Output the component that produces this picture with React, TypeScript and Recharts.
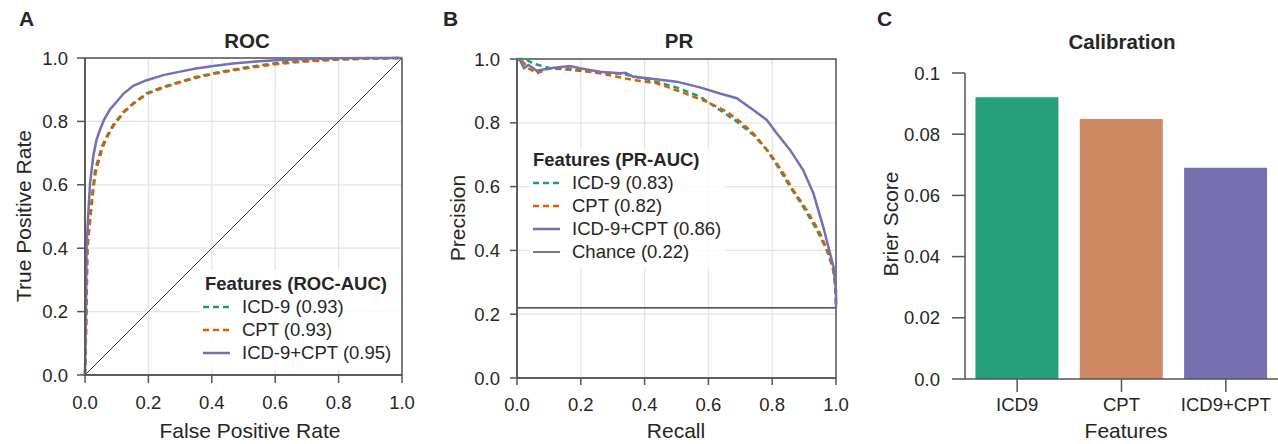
import React from 'react';
import {
  LineChart, Line, BarChart, Bar, Cell,
  XAxis, YAxis, CartesianGrid, ReferenceLine, ReferenceArea, Legend
} from 'recharts';

// ROC curves: [false positive rate, true positive rate]
const rocIcd9 = [
  [0, 0], [0.003, 0.15], [0.007, 0.405], [0.016, 0.5], [0.024, 0.58], [0.032, 0.647],
  [0.053, 0.72], [0.068, 0.752], [0.089, 0.789], [0.121, 0.83], [0.152, 0.857],
  [0.195, 0.889], [0.247, 0.909], [0.3, 0.925], [0.35, 0.94], [0.405, 0.952],
  [0.51, 0.971], [0.615, 0.985], [0.7, 0.992], [0.8, 0.997], [0.9, 0.999], [1, 1],
];
const rocCpt = [
  [0, 0], [0.004, 0.15], [0.008, 0.4], [0.017, 0.495], [0.025, 0.575], [0.034, 0.64],
  [0.055, 0.716], [0.07, 0.75], [0.09, 0.786], [0.122, 0.828], [0.152, 0.855],
  [0.195, 0.886], [0.247, 0.907], [0.3, 0.923], [0.35, 0.937], [0.405, 0.95],
  [0.51, 0.968], [0.615, 0.982], [0.7, 0.989], [0.8, 0.995], [0.9, 0.998], [1, 1],
];
const rocCombined = [
  [0, 0], [0.003, 0.2], [0.005, 0.405], [0.011, 0.52], [0.016, 0.605], [0.026, 0.69],
  [0.036, 0.74], [0.047, 0.773], [0.06, 0.805], [0.079, 0.838], [0.1, 0.862],
  [0.121, 0.887], [0.152, 0.912], [0.195, 0.93], [0.247, 0.946], [0.3, 0.957],
  [0.35, 0.967], [0.405, 0.975], [0.467, 0.983], [0.55, 0.99], [0.615, 0.994],
  [0.7, 0.997], [0.8, 0.999], [0.9, 1], [1, 1],
];
const rocChance = [[0, 0], [1, 1]];

// PR curves: [recall, precision]
const prIcd9 = [
  [0, 1], [0.025, 1], [0.051, 0.986], [0.103, 0.971], [0.156, 0.967], [0.26, 0.957],
  [0.333, 0.953], [0.417, 0.934], [0.5, 0.911], [0.574, 0.882], [0.636, 0.84],
  [0.689, 0.804], [0.741, 0.762], [0.783, 0.715], [0.814, 0.668], [0.856, 0.6],
  [0.897, 0.537], [0.94, 0.464], [0.971, 0.401], [0.992, 0.339], [1, 0.25], [1, 0.22],
];
const prCpt = [
  [0.015, 0.995], [0.036, 0.971], [0.062, 0.955], [0.103, 0.971], [0.156, 0.971],
  [0.26, 0.955], [0.365, 0.934], [0.438, 0.924], [0.511, 0.898], [0.595, 0.866],
  [0.657, 0.835], [0.699, 0.804], [0.741, 0.767], [0.793, 0.704], [0.835, 0.642],
  [0.866, 0.589], [0.908, 0.527], [0.95, 0.454], [0.981, 0.38], [0.997, 0.31], [1, 0.22],
];
const prCombined = [
  [0, 1], [0.009, 0.997], [0.022, 0.971], [0.036, 0.981], [0.062, 0.963], [0.103, 0.971],
  [0.166, 0.978], [0.197, 0.971], [0.26, 0.96], [0.323, 0.955], [0.34, 0.957],
  [0.365, 0.944], [0.417, 0.939], [0.5, 0.929], [0.574, 0.911], [0.636, 0.892],
  [0.689, 0.877], [0.741, 0.84], [0.783, 0.809], [0.814, 0.767], [0.856, 0.715],
  [0.897, 0.652], [0.929, 0.579], [0.96, 0.474], [0.992, 0.349], [1, 0.276], [1, 0.22],
];
const prChance = 0.22;

// Calibration
const brierCategories = ['ICD9', 'CPT', 'ICD9+CPT'];
const brierScores = [0.0921, 0.085, 0.069];
const brierTicks = [0, 0.02, 0.04, 0.06, 0.08, 0.1];
const unitTicks = [0, 0.2, 0.4, 0.6, 0.8, 1.0];

const GREEN = '#1b9e77';
const ORANGE = '#d95f02';
const PURPLE = '#7570b3';
const barColors = ['#25a07a', '#cd8962', '#7670b1'];

const FONT = '"Liberation Sans", Arial, Helvetica, sans-serif';
const SPINE = '#555';
const TEXT = '#262626';
const tickStyle = { fontSize: 18.5, fill: TEXT, fontFamily: FONT };

const toPts = (arr: number[][]) => arr.map(([x, y]) => ({ x, y }));

function Txt({ x, y, size, bold, rotate, children }: any) {
  return (
    <div style={{
      position: 'absolute', left: x, top: y, fontSize: size, fontWeight: bold ? 'bold' : 'normal',
      fontFamily: FONT, color: TEXT, lineHeight: 1, whiteSpace: 'nowrap',
      transform: `translate(-50%, -50%)${rotate ? ' rotate(-90deg)' : ''}`,
    }}>{children}</div>
  );
}

interface LegendItem { label: string; color: string; dash?: string; width: number; }

function LegendBox({ title, items, titleH, rowH, padTop, padLeft, gap }: any) {
  return (
    <div style={{ background: 'rgba(255,255,255,0.8)', paddingTop: padTop, paddingBottom: 6, fontFamily: FONT, color: TEXT }}>
      <div style={{ height: titleH, lineHeight: `${titleH}px`, fontSize: 18.5, fontWeight: 'bold', paddingLeft: padLeft }}>{title}</div>
      {items.map((it: LegendItem) => (
        <div key={it.label} style={{ height: rowH, display: 'flex', alignItems: 'center', fontSize: 18.5 }}>
          <svg width={27} height={10} style={{ marginLeft: 3, marginRight: gap }}>
            <line x1={0} y1={5} x2={27} y2={5} stroke={it.color} strokeWidth={it.width} strokeDasharray={it.dash} />
          </svg>
          <span>{it.label}</span>
        </div>
      ))}
    </div>
  );
}

const rocLegend: LegendItem[] = [
  { label: 'ICD-9 (0.93)', color: GREEN, dash: '6 4', width: 2.5 },
  { label: 'CPT (0.93)', color: ORANGE, dash: '6 4', width: 2.5 },
  { label: 'ICD-9+CPT (0.95)', color: PURPLE, width: 2.5 },
];
const prLegend: LegendItem[] = [
  { label: 'ICD-9 (0.83)', color: GREEN, dash: '6 4', width: 2.5 },
  { label: 'CPT (0.82)', color: ORANGE, dash: '6 4', width: 2.5 },
  { label: 'ICD-9+CPT (0.86)', color: PURPLE, width: 2.5 },
  { label: 'Chance (0.22)', color: '#222', width: 1.2 },
];

export default function App() {
  const calib = brierCategories.map((name, i) => ({ name, brier: brierScores[i] }));
  const fmtUnit = (v: number) => v.toFixed(1);
  const fmtBrier = (v: number) => (v === 0 ? '0.0' : v === 0.1 ? '0.1' : v.toFixed(2));

  return (
    <div style={{ position: 'absolute', left: 0, top: 0, width: 1278, height: 444, background: '#fff', overflow: 'hidden' }}>
      {/* A: ROC */}
      <div style={{ position: 'absolute', left: 0, top: 0 }}>
        <LineChart width={420} height={444} margin={{ top: 58, right: 18, bottom: 0, left: 0 }}>
          <CartesianGrid stroke="#e4e4e4" strokeWidth={1.3} />
          <XAxis dataKey="x" type="number" domain={[0, 1]} ticks={unitTicks} tickFormatter={fmtUnit}
            height={69} tickSize={8} tickMargin={13} tick={tickStyle}
            axisLine={{ stroke: SPINE, strokeWidth: 1.5 }} tickLine={{ stroke: SPINE, strokeWidth: 1.5 }} />
          <YAxis dataKey="y" type="number" domain={[0, 1]} ticks={unitTicks} tickFormatter={fmtUnit}
            width={85} tickSize={8} tickMargin={9} tick={tickStyle}
            axisLine={{ stroke: SPINE, strokeWidth: 1.5 }} tickLine={{ stroke: SPINE, strokeWidth: 1.5 }} />
          <ReferenceArea x1={0} x2={1} y1={0} y2={1} fill="none" stroke={SPINE} strokeWidth={1.5} ifOverflow="visible" />
          <Line data={toPts(rocChance)} dataKey="y" stroke="#222" strokeWidth={0.9} dot={false} isAnimationActive={false} />
          <Line data={toPts(rocIcd9)} dataKey="y" stroke={GREEN} strokeWidth={2.5} strokeDasharray="6 4" dot={false} isAnimationActive={false} />
          <Line data={toPts(rocCpt)} dataKey="y" stroke={ORANGE} strokeWidth={2.5} strokeDasharray="6 4" dot={false} isAnimationActive={false} />
          <Line data={toPts(rocCombined)} dataKey="y" stroke={PURPLE} strokeWidth={2.5} dot={false} isAnimationActive={false} />
          <Legend layout="vertical" align="center" verticalAlign="middle"
            wrapperStyle={{ left: 200, top: 270, width: 201 }}
            content={() => <LegendBox title="Features (ROC-AUC)" items={rocLegend} titleH={23} rowH={23} padTop={2} padLeft={5} gap={12} />} />
        </LineChart>
        <Txt x={26.5} y={17.5} size={21} bold>A</Txt>
        <Txt x={247} y={40.5} size={20.5} bold>ROC</Txt>
        <Txt x={23} y={216} size={21} rotate>True Positive Rate</Txt>
        <Txt x={250} y={430} size={21}>False Positive Rate</Txt>
      </div>

      {/* B: PR */}
      <div style={{ position: 'absolute', left: 420, top: 0 }}>
        <LineChart width={440} height={444} margin={{ top: 59, right: 24, bottom: 0, left: 0 }}>
          <CartesianGrid stroke="#e4e4e4" strokeWidth={1.3} />
          <XAxis dataKey="x" type="number" domain={[0, 1]} ticks={unitTicks} tickFormatter={fmtUnit}
            height={66} tickSize={7} tickMargin={13} tick={tickStyle}
            axisLine={{ stroke: SPINE, strokeWidth: 1.5 }} tickLine={{ stroke: SPINE, strokeWidth: 1.5 }} />
          <YAxis dataKey="y" type="number" domain={[0, 1]} ticks={unitTicks} tickFormatter={fmtUnit}
            width={97} tickSize={7} tickMargin={10} tick={tickStyle}
            axisLine={{ stroke: SPINE, strokeWidth: 1.5 }} tickLine={{ stroke: SPINE, strokeWidth: 1.5 }} />
          <ReferenceArea x1={0} x2={1} y1={0} y2={1} fill="none" stroke={SPINE} strokeWidth={1.5} ifOverflow="visible" />
          <ReferenceLine y={prChance} stroke="#222" strokeWidth={1.2} />
          <Line data={toPts(prIcd9)} dataKey="y" stroke={GREEN} strokeWidth={2.5} strokeDasharray="6 4" dot={false} isAnimationActive={false} />
          <Line data={toPts(prCpt)} dataKey="y" stroke={ORANGE} strokeWidth={2.5} strokeDasharray="6 4" dot={false} isAnimationActive={false} />
          <Line data={toPts(prCombined)} dataKey="y" stroke={PURPLE} strokeWidth={2.5} dot={false} isAnimationActive={false} />
          <Legend layout="vertical" align="center" verticalAlign="middle"
            wrapperStyle={{ left: 110, top: 148, width: 196 }}
            content={() => <LegendBox title="Features (PR-AUC)" items={prLegend} titleH={22} rowH={23} padTop={1} padLeft={3} gap={12} />} />
        </LineChart>
        <Txt x={30.5} y={17.5} size={21} bold>B</Txt>
        <Txt x={259} y={41} size={20.5} bold>PR</Txt>
        <Txt x={37} y={218} size={21} rotate>Precision</Txt>
        <Txt x={256} y={430} size={21}>Recall</Txt>
      </div>

      {/* C: Calibration */}
      <div style={{ position: 'absolute', left: 860, top: 0 }}>
        <BarChart width={418} height={444} data={calib} margin={{ top: 73, right: 0, bottom: 0, left: 0 }} barCategoryGap="10%">
          <XAxis dataKey="name" type="category" height={65} tickSize={13} tickMargin={6} tick={tickStyle}
            axisLine={{ stroke: SPINE, strokeWidth: 1.5 }} tickLine={{ stroke: SPINE, strokeWidth: 1.5 }} />
          <YAxis type="number" domain={[0, 0.1]} ticks={brierTicks} tickFormatter={fmtBrier}
            width={105} tickSize={13} tickMargin={12} tick={tickStyle}
            axisLine={{ stroke: SPINE, strokeWidth: 1.5 }} tickLine={{ stroke: SPINE, strokeWidth: 1.5 }} />
          <Bar dataKey="brier" isAnimationActive={false}>
            {calib.map((d, i) => <Cell key={d.name} fill={barColors[i]} />)}
          </Bar>
        </BarChart>
        <Txt x={24.5} y={17.5} size={21} bold>C</Txt>
        <Txt x={262} y={42} size={20.5} bold>Calibration</Txt>
        <Txt x={30} y={224} size={21} rotate>Brier Score</Txt>
        <Txt x={266} y={430} size={21}>Features</Txt>
      </div>
    </div>
  );
}
